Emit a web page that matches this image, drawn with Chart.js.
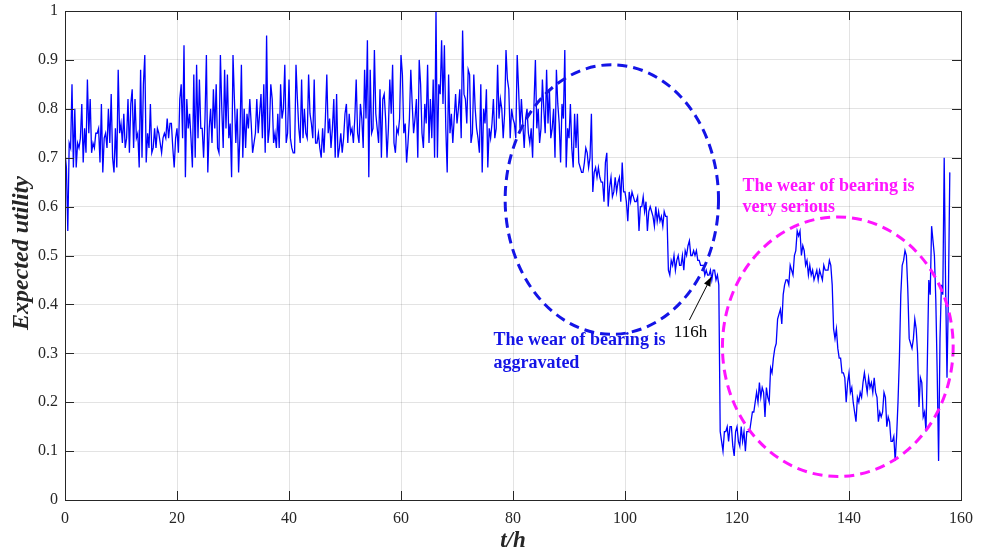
<!DOCTYPE html>
<html>
<head>
<meta charset="utf-8">
<script src="https://cdn.jsdelivr.net/npm/chart.js@4/dist/chart.umd.min.js"></script>
<style>
  html, body { margin: 0; padding: 0; background: #ffffff; }
  #wrap { width: 981px; height: 553px; }
</style>
</head>
<body>
<div id="wrap"><canvas id="c" width="981" height="553"></canvas></div>
<script>
// Sampling interval of the utility series, in hours
const STEP_H = 0.25;

// Expected utility, one value every 15 minutes (each row = 5 hours)
const utility = [
  0.71,0.68,0.55,0.73, 0.72,0.85,0.68,0.80, 0.68,0.73,0.72,0.74, 0.81,0.69,0.76,0.71, 0.86,0.75,0.82,0.71,
  0.73,0.72,0.75,0.75, 0.76,0.69,0.81,0.67, 0.74,0.75,0.72,0.80, 0.73,0.83,0.70,0.67, 0.76,0.68,0.88,0.75,
  0.77,0.73,0.79,0.72, 0.74,0.82,0.71,0.81, 0.84,0.72,0.82,0.74, 0.75,0.68,0.88,0.70, 0.85,0.91,0.69,0.75,
  0.72,0.81,0.71,0.72, 0.76,0.72,0.76,0.75, 0.73,0.71,0.74,0.75, 0.74,0.78,0.74,0.77, 0.77,0.72,0.68,0.74,
  0.76,0.71,0.82,0.85, 0.74,0.93,0.66,0.82, 0.76,0.79,0.74,0.68, 0.87,0.70,0.89,0.74, 0.86,0.76,0.76,0.70,
  0.78,0.91,0.67,0.76, 0.80,0.73,0.84,0.76, 0.85,0.72,0.71,0.91, 0.80,0.72,0.88,0.76, 0.87,0.74,0.77,0.66,
  0.91,0.82,0.73,0.80, 0.67,0.75,0.89,0.70, 0.80,0.72,0.79,0.76, 0.82,0.77,0.71,0.73, 0.75,0.82,0.75,0.79,
  0.83,0.74,0.85,0.71, 0.95,0.73,0.76,0.85, 0.82,0.73,0.75,0.72, 0.79,0.72,0.85,0.78, 0.80,0.89,0.73,0.75,
  0.86,0.74,0.72,0.71, 0.71,0.89,0.82,0.76, 0.73,0.86,0.74,0.80, 0.75,0.74,0.87,0.79, 0.77,0.74,0.86,0.73,
  0.73,0.75,0.72,0.70, 0.76,0.71,0.78,0.87, 0.75,0.78,0.72,0.76, 0.82,0.70,0.83,0.70, 0.72,0.75,0.71,0.74,
  0.79,0.81,0.73,0.79, 0.75,0.76,0.73,0.78, 0.86,0.75,0.73,0.81, 0.78,0.72,0.88,0.78, 0.94,0.66,0.88,0.75,
  0.76,0.92,0.79,0.76, 0.73,0.84,0.70,0.82, 0.83,0.78,0.70,0.76, 0.86,0.79,0.89,0.73, 0.71,0.76,0.75,0.78,
  0.91,0.87,0.75,0.77, 0.69,0.73,0.78,0.88, 0.81,0.75,0.78,0.82, 0.70,0.90,0.85,0.75, 0.72,0.81,0.77,0.89,
  0.73,0.82,0.74,0.86, 0.70,1.00,0.70,0.85, 0.83,0.94,0.81,0.93, 0.76,0.67,0.87,0.75, 0.79,0.73,0.78,0.83,
  0.77,0.80,0.84,0.74, 0.96,0.83,0.82,0.77, 0.88,0.87,0.73,0.75, 0.87,0.80,0.76,0.74, 0.71,0.85,0.67,0.80,
  0.77,0.84,0.68,0.76, 0.74,0.77,0.82,0.74, 0.76,0.89,0.78,0.82, 0.80,0.74,0.79,0.92, 0.86,0.84,0.74,0.80,
  0.78,0.77,0.74,0.91, 0.84,0.76,0.82,0.77, 0.72,0.78,0.80,0.75, 0.73,0.76,0.70,0.81, 0.90,0.76,0.80,0.73,
  0.76,0.86,0.80,0.75, 0.88,0.77,0.84,0.74, 0.76,0.80,0.70,0.88, 0.81,0.77,0.69,0.81, 0.78,0.92,0.68,0.76,
  0.74,0.81,0.72,0.68, 0.79,0.72,0.79,0.69, 0.68,0.67,0.67,0.69, 0.72,0.71,0.68,0.70, 0.79,0.63,0.67,0.68,
  0.66,0.68,0.66,0.65, 0.65,0.61,0.69,0.71, 0.60,0.64,0.66,0.62, 0.63,0.66,0.63,0.65, 0.66,0.61,0.69,0.63,
  0.63,0.61,0.57,0.63, 0.61,0.63,0.62,0.61, 0.61,0.62,0.55,0.60, 0.60,0.62,0.59,0.61, 0.55,0.59,0.60,0.59,
  0.58,0.56,0.60,0.57, 0.59,0.57,0.58,0.56, 0.59,0.58,0.58,0.47, 0.46,0.49,0.48,0.50, 0.47,0.49,0.50,0.48,
  0.48,0.50,0.47,0.51, 0.50,0.52,0.53,0.50, 0.50,0.51,0.50,0.51, 0.49,0.49,0.48,0.48, 0.48,0.46,0.47,0.46,
  0.46,0.47,0.45,0.47, 0.47,0.45,0.46,0.44, 0.14,0.12,0.10,0.14, 0.14,0.15,0.12,0.15, 0.15,0.11,0.09,0.14,
  0.15,0.12,0.11,0.15, 0.12,0.14,0.10,0.14, 0.14,0.14,0.16,0.18, 0.18,0.20,0.22,0.20, 0.24,0.21,0.23,0.22,
  0.17,0.23,0.21,0.20, 0.27,0.26,0.29,0.31, 0.32,0.37,0.38,0.39, 0.36,0.42,0.44,0.45, 0.45,0.44,0.48,0.47,
  0.46,0.50,0.51,0.55, 0.54,0.55,0.50,0.52, 0.51,0.48,0.49,0.46, 0.48,0.46,0.47,0.45, 0.46,0.47,0.45,0.47,
  0.46,0.45,0.48,0.47, 0.47,0.47,0.49,0.48, 0.44,0.35,0.33,0.35, 0.31,0.29,0.29,0.26, 0.26,0.25,0.20,0.24,
  0.26,0.22,0.23,0.20, 0.18,0.16,0.21,0.20, 0.22,0.21,0.24,0.26, 0.24,0.22,0.25,0.23, 0.24,0.22,0.25,0.22,
  0.21,0.16,0.18,0.17, 0.18,0.22,0.21,0.15, 0.17,0.16,0.12,0.12, 0.13,0.08,0.13,0.20, 0.29,0.42,0.48,0.49,
  0.51,0.50,0.43,0.33, 0.32,0.31,0.33,0.37, 0.35,0.30,0.19,0.25, 0.24,0.17,0.18,0.14, 0.29,0.45,0.42,0.56,
  0.53,0.50,0.41,0.26, 0.08,0.33,0.44,0.42, 0.70,0.44,0.25,0.42,
  0.67
];

// Axis ticks
const xTicks = [0, 20, 40, 60, 80, 100, 120, 140, 160];
const yTicks = [0, 0.1, 0.2, 0.3, 0.4, 0.5, 0.6, 0.7, 0.8, 0.9, 1];

// Axis titles
const xTitle = 't/h';
const yTitle = 'Expected utility';

// Wear stages, marked with dashed ellipses (centre and radii in data units)
const stageNames = ['aggravated', 'serious'];
const stageCentreH = [97.65, 138.0];
const stageCentreU = [0.6145, 0.3135];
const stageRadiusH = [19.05, 20.6];
const stageRadiusU = [0.2756, 0.2654];
const stageColours = ['#1414e6', '#ff14ff'];
const stageText = [
  ['The wear of bearing is', 'aggravated'],
  ['The wear of bearing is', 'very serious']
];
const stageTextH = [76.5, 121.0];
const stageTextU = [[0.317, 0.270], [0.632, 0.589]];

// Onset marker
const onsetLabel = '116h';
const onsetLabelAt = [111.7, 0.333];
const onsetArrowFrom = [111.5, 0.368];
const onsetArrowTo = [115.4, 0.456];

const SERIF = "'Liberation Serif', 'Times New Roman', serif";
const AXIS_COLOR = '#262626';

const points = utility.map((v, i) => ({ x: i * STEP_H, y: v }));

const decorations = {
  id: 'decorations',
  afterDatasetsDraw(chart) {
    const { ctx, scales: { x, y } } = chart;
    ctx.save();

    // dashed stage ellipses
    stageNames.forEach((_, k) => {
      const cx = x.getPixelForValue(stageCentreH[k]);
      const cy = y.getPixelForValue(stageCentreU[k]);
      const rx = Math.abs(x.getPixelForValue(stageCentreH[k] + stageRadiusH[k]) - cx);
      const ry = Math.abs(y.getPixelForValue(stageCentreU[k] + stageRadiusU[k]) - cy);
      ctx.beginPath();
      ctx.ellipse(cx, cy, rx, ry, 0, 0, Math.PI * 2);
      ctx.setLineDash([10, 6]);
      ctx.lineWidth = 3;
      ctx.strokeStyle = stageColours[k];
      ctx.stroke();
    });
    ctx.setLineDash([]);

    // stage captions
    ctx.font = 'bold 18px ' + SERIF;
    ctx.textAlign = 'left';
    ctx.textBaseline = 'alphabetic';
    stageNames.forEach((_, k) => {
      ctx.fillStyle = stageColours[k];
      stageText[k].forEach((line, j) => {
        ctx.fillText(line, x.getPixelForValue(stageTextH[k]), y.getPixelForValue(stageTextU[k][j]));
      });
    });

    // onset arrow
    const x0 = x.getPixelForValue(onsetArrowFrom[0]), y0 = y.getPixelForValue(onsetArrowFrom[1]);
    const x1 = x.getPixelForValue(onsetArrowTo[0]), y1 = y.getPixelForValue(onsetArrowTo[1]);
    ctx.strokeStyle = '#000';
    ctx.fillStyle = '#000';
    ctx.lineWidth = 1;
    ctx.beginPath();
    ctx.moveTo(x0, y0);
    ctx.lineTo(x1, y1);
    ctx.stroke();
    const ang = Math.atan2(y1 - y0, x1 - x0);
    const hl = 9, hw = 3.5;
    ctx.beginPath();
    ctx.moveTo(x1, y1);
    ctx.lineTo(x1 - hl * Math.cos(ang) + hw * Math.sin(ang), y1 - hl * Math.sin(ang) - hw * Math.cos(ang));
    ctx.lineTo(x1 - hl * Math.cos(ang) - hw * Math.sin(ang), y1 - hl * Math.sin(ang) + hw * Math.cos(ang));
    ctx.closePath();
    ctx.fill();

    ctx.font = '17px ' + SERIF;
    ctx.textAlign = 'center';
    ctx.fillText(onsetLabel, x.getPixelForValue(onsetLabelAt[0]), y.getPixelForValue(onsetLabelAt[1]));

    ctx.restore();
  },
  afterDraw(chart) {
    const { ctx, chartArea: a, scales: { x, y } } = chart;
    ctx.save();
    ctx.strokeStyle = AXIS_COLOR;
    ctx.lineWidth = 1;
    // box
    ctx.strokeRect(Math.round(a.left) + 0.5, Math.round(a.top) + 0.5,
                   Math.round(a.right - a.left), Math.round(a.bottom - a.top));
    // inward tick marks on all four sides
    const TL = 9;
    ctx.beginPath();
    xTicks.forEach(v => {
      const px = Math.round(x.getPixelForValue(v)) + 0.5;
      ctx.moveTo(px, a.bottom); ctx.lineTo(px, a.bottom - TL);
      ctx.moveTo(px, a.top); ctx.lineTo(px, a.top + TL);
    });
    yTicks.forEach(v => {
      const py = Math.round(y.getPixelForValue(v)) + 0.5;
      ctx.moveTo(a.left, py); ctx.lineTo(a.left + TL, py);
      ctx.moveTo(a.right, py); ctx.lineTo(a.right - TL, py);
    });
    ctx.stroke();

    // axis titles
    ctx.fillStyle = AXIS_COLOR;
    ctx.textAlign = 'center';
    ctx.textBaseline = 'middle';
    ctx.font = 'italic bold 23px ' + SERIF;
    ctx.fillText(xTitle, (a.left + a.right) / 2, 541);
    ctx.font = 'italic bold 24px ' + SERIF;
    ctx.translate(22, 253);
    ctx.rotate(-Math.PI / 2);
    ctx.fillText(yTitle, 0, 0);
    ctx.restore();
  }
};

Chart.defaults.font.family = SERIF;
Chart.defaults.font.size = 16;
Chart.defaults.color = AXIS_COLOR;

new Chart(document.getElementById('c'), {
  type: 'line',
  data: {
    datasets: [{
      data: points,
      borderColor: '#0000ff',
      borderWidth: 1.3,
      pointRadius: 0,
      tension: 0,
      fill: false
    }]
  },
  options: {
    responsive: false,
    animation: false,
    devicePixelRatio: 1,
    layout: { padding: { top: 11, right: 20, bottom: 0, left: 0 } },
    plugins: { legend: { display: false }, tooltip: { enabled: false } },
    scales: {
      x: {
        type: 'linear',
        min: 0, max: 160,
        afterBuildTicks: s => { s.ticks = xTicks.map(v => ({ value: v })); },
        afterFit: s => { s.height = 53; s.paddingLeft = 0; s.paddingRight = 0; },
        grid: { color: 'rgba(0,0,0,0.11)', drawTicks: false },
        border: { display: false },
        ticks: { padding: 9, maxRotation: 0, autoSkip: false, callback: v => String(v) }
      },
      y: {
        type: 'linear',
        min: 0, max: 1,
        afterBuildTicks: s => { s.ticks = yTicks.map(v => ({ value: v })); },
        afterFit: s => { s.width = 65; s.paddingTop = 0; s.paddingBottom = 0; },
        grid: { color: 'rgba(0,0,0,0.11)', drawTicks: false },
        border: { display: false },
        ticks: { padding: 7, autoSkip: false, callback: v => String(Math.round(v * 10) / 10) }
      }
    }
  },
  plugins: [decorations]
});
</script>
</body>
</html>
